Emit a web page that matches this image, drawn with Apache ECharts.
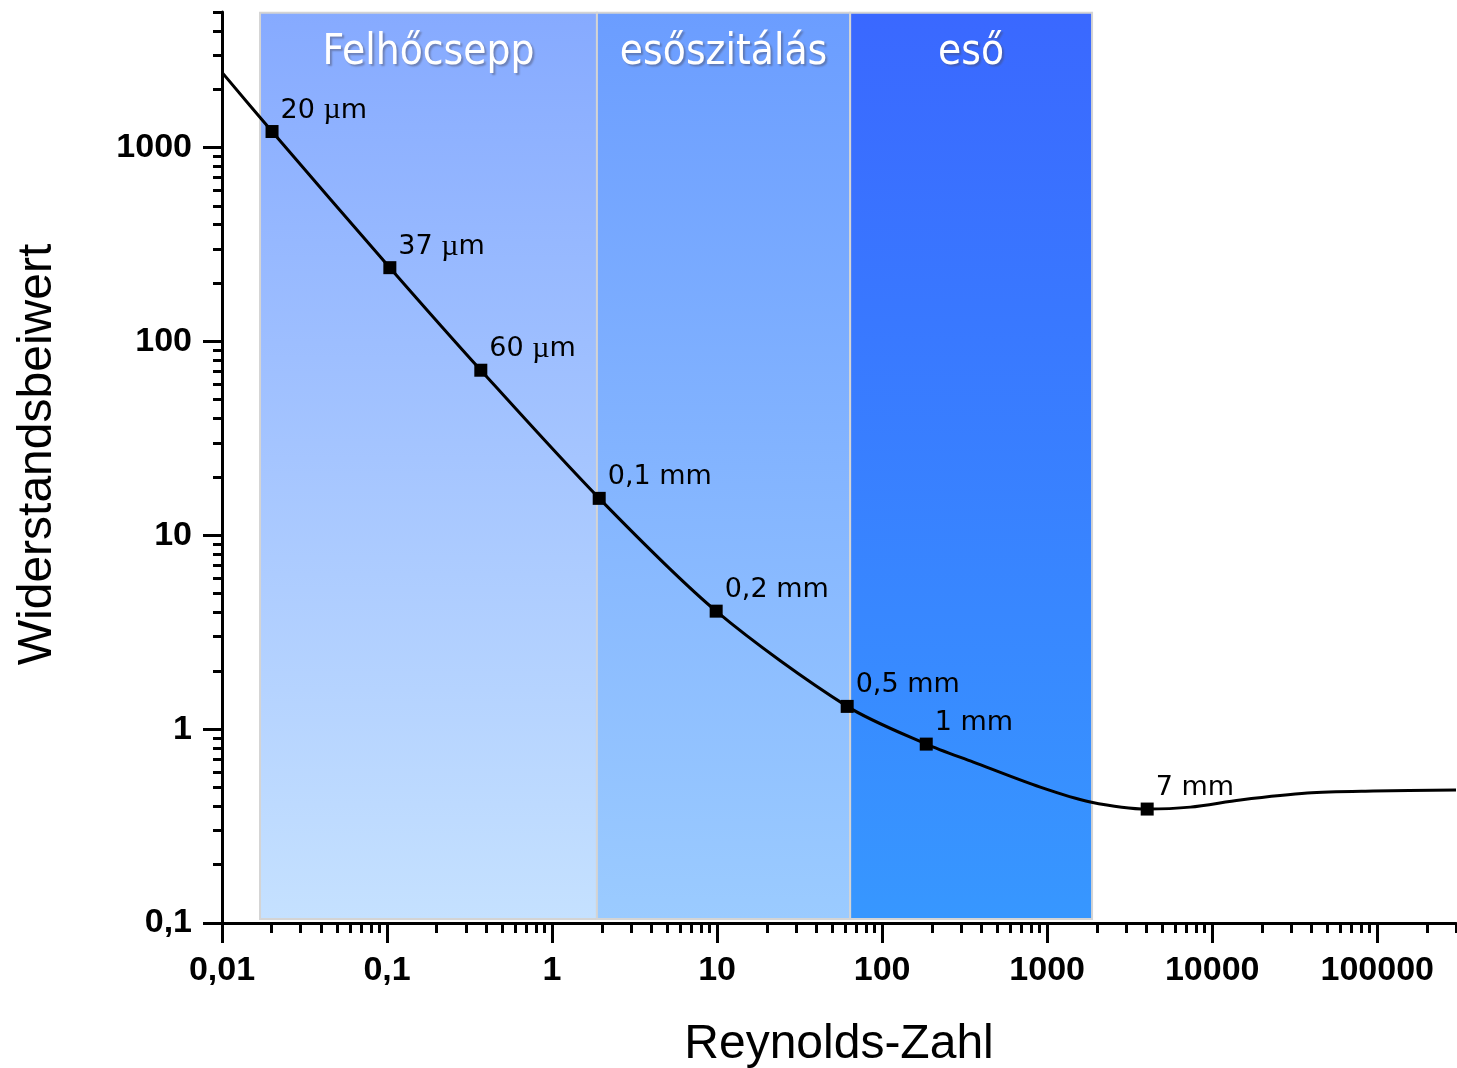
<!DOCTYPE html>
<html>
<head>
<meta charset="utf-8">
<script src="https://cdn.jsdelivr.net/npm/echarts@6/dist/echarts.min.js"></script>
<style>
  html, body { margin: 0; padding: 0; background: #fff; }
  #chart { width: 1457px; height: 1068px; }
</style>
</head>
<body>
<div id="chart"></div>
<script>
// Widerstandsbeiwert-Kurve (Reynolds-Zahl, cw)
const curveRe = [0.01, 0.0201, 0.104, 0.37, 1.93, 9.87, 61.4, 185, 357, 908, 1824, 4036, 7360, 14800, 37700, 94600, 300000];
const curveCd = [2440, 1209, 240, 71, 15.5, 4.06, 1.31, 0.837, 0.676, 0.502, 0.421, 0.387, 0.396, 0.431, 0.468, 0.479, 0.485];

// Tropfengrößen (markierte Punkte)
const dropRe = [0.0201, 0.104, 0.37, 1.93, 9.87, 61.4, 185, 4036];
const dropCd = [1209, 240, 71, 15.5, 4.06, 1.31, 0.837, 0.387];
const dropLabels = ['20 µm', '37 µm', '60 µm', '0,1 mm', '0,2 mm', '0,5 mm', '1 mm', '7 mm'];

// Bereiche
const bandNames = ['Felhőcsepp', 'esőszitálás', 'eső'];
const bandEdges = [0.017, 1.87, 64, 1870];
const bandColTop = ['#86aaff', '#6b9dff', '#3a68ff'];
const bandColBottom = ['#c5e1ff', '#9bcbff', '#3797ff'];

// Achsen
const xMajor = [0.01, 0.1, 1, 10, 100, 1000, 10000, 100000];
const xMajorLabels = ['0,01', '0,1', '1', '10', '100', '1000', '10000', '100000'];
const yMajor = [0.1, 1, 10, 100, 1000];
const yMajorLabels = ['0,1', '1', '10', '100', '1000'];
const xMin = 0.01, xMax = 300000;
const yMin = 0.1, yMax = 5000;

function minorTicks(min, max) {
  const out = [];
  for (let e = Math.floor(Math.log10(min)); e <= Math.ceil(Math.log10(max)); e++) {
    for (let k = 2; k <= 9; k++) {
      const v = k * Math.pow(10, e);
      if (v >= min * 0.999 && v <= max * 1.001) out.push(v);
    }
  }
  return out;
}

function labelFor(ticks, labels) {
  return function (v) {
    for (let i = 0; i < ticks.length; i++) {
      if (Math.abs(Math.log10(v) - Math.log10(ticks[i])) < 1e-6) return labels[i];
    }
    return '';
  };
}

const chart = echarts.init(document.getElementById('chart'));

const gridBox = { left: 222, right: 1, top: 12, bottom: 145, containLabel: false, outerBoundsMode: 'none' };
const tickFont = { fontFamily: 'Liberation Sans, Arial, sans-serif', fontWeight: 'bold', fontSize: 34, color: '#000' };
const axisLine = { show: true, onZero: false, lineStyle: { color: '#000', width: 3 } };

const curveData = curveRe.map((x, i) => [x, curveCd[i]]);
const dropData = dropRe.map((x, i) => ({ value: [x, dropCd[i]], name: dropLabels[i] }));

const areas = bandNames.map((n, i) => [
  {
    name: n,
    xAxis: bandEdges[i],
    yAxis: 0.105,
    itemStyle: {
      color: {
        type: 'linear', x: 0, y: 0, x2: 0, y2: 1,
        colorStops: [
          { offset: 0, color: bandColTop[i] },
          { offset: 1, color: bandColBottom[i] }
        ]
      }
    }
  },
  { xAxis: bandEdges[i + 1], yAxis: 4950 }
]);

const option = {
  animation: false,
  backgroundColor: '#fff',
  grid: [Object.assign({}, gridBox), Object.assign({}, gridBox)],
  xAxis: [
    {
      type: 'log', gridIndex: 0, min: xMin, max: xMax,
      axisLine: axisLine,
      axisTick: { show: true, inside: false, length: 20, lineStyle: { color: '#000', width: 3 }, customValues: xMajor },
      axisLabel: Object.assign({ margin: 31, customValues: xMajor, formatter: labelFor(xMajor, xMajorLabels) }, tickFont),
      splitLine: { show: false },
      name: 'Reynolds-Zahl', nameLocation: 'middle', nameGap: 98,
      nameTextStyle: { fontFamily: 'Liberation Sans, Arial, sans-serif', fontSize: 48, color: '#000' }
    },
    {
      type: 'log', gridIndex: 1, min: xMin, max: xMax,
      axisLine: { show: false },
      axisTick: { show: true, inside: false, length: 10, lineStyle: { color: '#000', width: 3 }, customValues: minorTicks(xMin, xMax) },
      axisLabel: { show: false },
      splitLine: { show: false }
    }
  ],
  yAxis: [
    {
      type: 'log', gridIndex: 0, min: yMin, max: yMax,
      axisLine: axisLine,
      axisTick: { show: true, inside: false, length: 19, lineStyle: { color: '#000', width: 3 }, customValues: yMajor },
      axisLabel: Object.assign({ margin: 30, customValues: yMajor, formatter: labelFor(yMajor, yMajorLabels) }, tickFont),
      splitLine: { show: false },
      name: 'Widerstandsbeiwert', nameLocation: 'middle', nameGap: 160,
      nameTextStyle: { fontFamily: 'Liberation Sans, Arial, sans-serif', fontSize: 48, color: '#000', padding: [0, 0, 0, 26] }
    },
    {
      type: 'log', gridIndex: 1, min: yMin, max: yMax,
      axisLine: { show: false },
      axisTick: { show: true, inside: false, length: 9, lineStyle: { color: '#000', width: 3 }, customValues: minorTicks(yMin, yMax) },
      axisLabel: { show: false },
      splitLine: { show: false }
    }
  ],
  series: [
    {
      type: 'line', xAxisIndex: 0, yAxisIndex: 0, data: [], z: 1,
      markArea: {
        silent: true,
        itemStyle: { borderColor: '#d4d4d4', borderWidth: 2 },
        label: {
          show: true, position: 'insideTop', distance: 20,
          color: '#fff', fontSize: 42,
          fontFamily: 'DejaVu Sans Condensed, DejaVu Sans, sans-serif',
          textShadowColor: 'rgba(70,70,90,0.45)', textShadowBlur: 2,
          textShadowOffsetX: 2, textShadowOffsetY: 2
        },
        data: areas
      }
    },
    {
      type: 'line', xAxisIndex: 0, yAxisIndex: 0, z: 3,
      data: curveData, smooth: 0.3, showSymbol: false, symbol: 'none',
      lineStyle: { color: '#000', width: 3 }
    },
    {
      type: 'scatter', xAxisIndex: 0, yAxisIndex: 0, z: 4,
      data: dropData, symbol: 'rect', symbolSize: 13,
      itemStyle: { color: '#000', opacity: 1 },
      label: {
        show: true, position: 'right', distance: 5, offset: [-3, -21],
        color: '#000', fontSize: 27,
        fontFamily: 'DejaVu Sans, Verdana, sans-serif',
        formatter: p => p.name.replace('µ', '{mu|µ}'),
        rich: {
          mu: { fontFamily: 'Liberation Serif, serif', fontSize: 30, color: '#000' }
        }
      }
    }
  ]
};

chart.setOption(option);
</script>
</body>
</html>
